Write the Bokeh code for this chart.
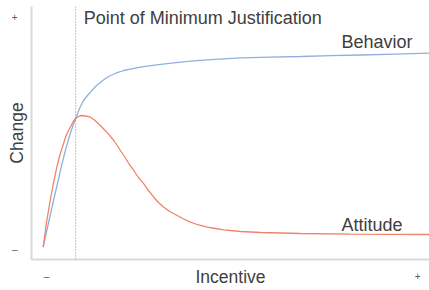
from bokeh.plotting import figure
from bokeh.models import Range1d, Span, Label, FixedTicker
from bokeh.embed import file_html
from bokeh.resources import INLINE

# Behavior curve (incentive, change)
behavior_x = [2.94, 4.27, 5.53, 6.53, 7.46, 8.54, 9.72, 10.43, 11.23, 12.06, 13.07,
              13.94, 14.82, 16.08, 17.34, 18.59, 19.85, 21.36, 23.19, 25.13, 27.39,
              31.41, 35.75, 39.95, 44.15, 52.51, 60.05, 67.59, 75.13, 82.66, 91.46, 100.0]
behavior_y = [4.86, 14.43, 23.32, 30.04, 36.48, 43.28, 49.68, 52.96, 56.25, 59.68, 62.85,
              64.62, 66.13, 68.38, 70.08, 71.54, 72.73, 73.72, 74.70, 75.38, 76.01,
              76.96, 77.75, 78.38, 78.93, 79.72, 80.00, 80.24, 80.55, 80.83, 81.19, 81.54]

# Attitude curve (incentive, change)
attitude_x = [2.94, 3.77, 4.70, 5.40, 6.36, 7.16, 8.04, 8.79, 9.72, 10.43, 11.06, 12.24,
              13.57, 14.82, 15.83, 16.83, 17.84, 18.92, 20.68, 21.86, 23.19, 24.37, 25.70,
              26.88, 28.22, 29.40, 30.73, 31.91, 33.24, 34.92, 36.61, 38.19, 39.95, 41.96,
              44.15, 46.23, 48.32, 52.51, 57.54, 67.59, 80.15, 100.0]
attitude_y = [4.86, 14.62, 23.32, 29.25, 36.48, 41.50, 45.73, 49.41, 52.29, 54.35, 55.73, 56.92,
              56.72, 56.25, 55.14, 53.64, 52.06, 50.32, 47.04, 44.27, 41.11, 38.14, 35.18,
              32.41, 29.92, 27.27, 24.62, 22.53, 20.67, 18.77, 17.39, 16.01, 14.74, 13.64,
              12.77, 12.25, 11.74, 11.07, 10.67, 10.28, 10.00, 9.88]

x_ticks = [3.8, 97.0]
x_tick_labels = ["\u2013", "+"]
y_ticks = [4.0, 95.7]
y_tick_labels = ["\u2013", "+"]

min_justification_x = 11.1

FONT = "Liberation Sans"
TEXT = "#404040"

p = figure(width=429, height=290,
           x_range=Range1d(0, 100), y_range=Range1d(0, 100),
           output_backend="svg", toolbar_location=None,
           min_border_left=31, min_border_right=0,
           min_border_top=6, min_border_bottom=31)
p.outline_line_color = None
p.grid.visible = False
p.background_fill_color = "white"
p.border_fill_color = "white"

p.line(behavior_x, behavior_y, line_color="#8fb0dd", line_width=1.3)
p.line(attitude_x, attitude_y, line_color="#f2826a", line_width=1.3)

p.add_layout(Span(location=min_justification_x, dimension="height",
                  line_color="#808080", line_dash="1 2", line_width=1))

p.add_layout(Label(x=13.1, y=95.6, text="Point of Minimum Justification",
                   text_font=FONT, text_font_size="18px", text_color=TEXT,
                   text_baseline="alphabetic"))
p.add_layout(Label(x=77.9, y=85.9, text="Behavior",
                   text_font=FONT, text_font_size="18px", text_color=TEXT,
                   text_baseline="alphabetic"))
p.add_layout(Label(x=77.9, y=13.8, text="Attitude",
                   text_font=FONT, text_font_size="18px", text_color=TEXT,
                   text_baseline="alphabetic"))

for ax, ticks, labels, name in ((p.xaxis[0], x_ticks, x_tick_labels, "Incentive"),
                                (p.yaxis[0], y_ticks, y_tick_labels, "Change")):
    ax.ticker = FixedTicker(ticks=ticks)
    ax.major_label_overrides = dict(zip(ticks, labels))
    ax.axis_label = name
    ax.axis_label_text_font = FONT
    ax.axis_label_text_font_size = "17.5px"
    ax.axis_label_text_font_style = "normal"
    ax.axis_label_text_color = TEXT
    ax.major_label_text_font = FONT
    ax.major_label_text_font_size = "10px"
    ax.major_label_text_color = "#595959"
    ax.axis_line_color = "#d9d9d9"
    ax.axis_line_width = 2
    ax.major_tick_line_color = None
    ax.minor_tick_line_color = None
    ax.major_tick_out = 0
    ax.major_tick_in = 0

p.xaxis.major_label_standoff = 11
p.xaxis.axis_label_standoff = -18
p.yaxis.major_label_standoff = 14
p.yaxis.axis_label_standoff = -18

open("out.html", "w").write(file_html(p, INLINE))
